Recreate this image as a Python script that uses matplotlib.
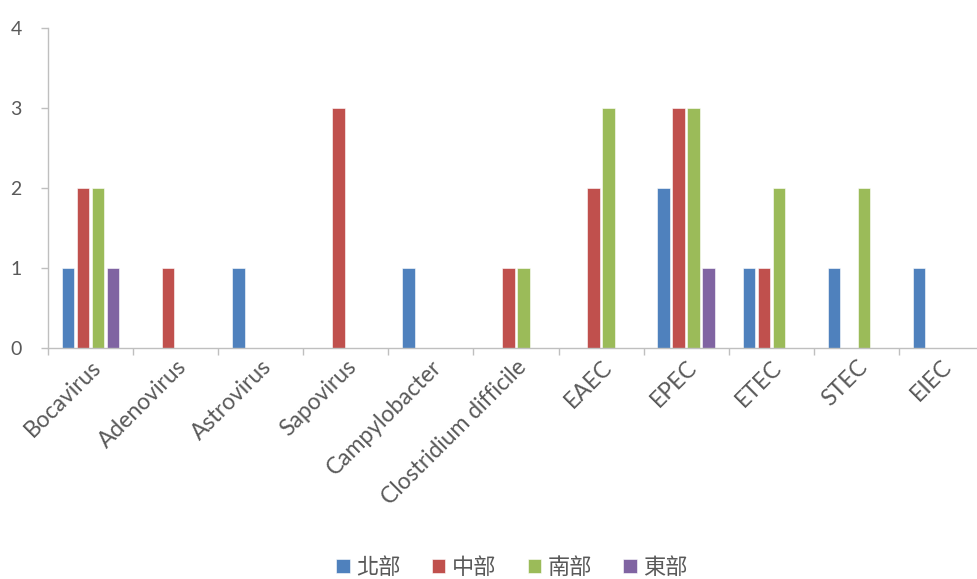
import matplotlib
matplotlib.use("Agg")
import matplotlib.pyplot as plt
import matplotlib.transforms as mtransforms
import numpy as np

categories = ["Bocavirus", "Adenovirus", "Astrovirus", "Sapovirus", "Campylobacter",
              "Clostridium difficile", "EAEC", "EPEC", "ETEC", "STEC", "EIEC"]
series_names = ["北部", "中部", "南部", "東部"]
north = [1, 0, 1, 0, 1, 0, 0, 2, 1, 1, 1]
central = [2, 1, 0, 3, 0, 1, 2, 3, 1, 0, 0]
south = [2, 0, 0, 0, 0, 1, 3, 3, 2, 2, 0]
east = [1, 0, 0, 0, 0, 0, 0, 1, 0, 0, 0]
yticks = [0, 1, 2, 3, 4]

colors = ["#4F81BD", "#C0504D", "#9BBB59", "#8064A2"]
series = [north, central, south, east]

plt.rcParams['font.family'] = ['Lato', 'Noto Sans CJK TC', 'DejaVu Sans']

fig = plt.figure(figsize=(9.78, 5.79), dpi=100)
ax = fig.add_axes([48/978, 231/579, 936/978, 320/579])

x = np.arange(len(categories))
step = 0.176
width = 0.147
for i, (vals, c, name) in enumerate(zip(series, colors, series_names)):
    ax.bar(x + (i - 1.5) * step, vals, width=width, color=c, label=name,
           edgecolor="white", linewidth=0.4, zorder=2)

ax.set_xlim(-0.5, len(categories) - 0.5)
ax.set_ylim(0, 4)
ax.set_yticks(yticks)
ax.set_yticklabels([str(v) for v in yticks], fontsize=14, color="#595959")
ax.set_xticks(x)
ax.set_xticklabels(categories, rotation=45, ha="right", rotation_mode="anchor",
                   fontsize=16.5, color="#595959")
offset = mtransforms.ScaledTranslation(-6/100, 0, fig.dpi_scale_trans)
for lbl in ax.get_xticklabels():
    lbl.set_transform(lbl.get_transform() + offset)
ax.set_xticks(np.arange(-0.5, len(categories) + 0.5, 1), minor=True)
ax.tick_params(axis="x", which="major", length=0, pad=6)
ax.tick_params(axis="x", which="minor", length=5, color="#BFBFBF", width=1)
ax.tick_params(axis="y", length=5, color="#BFBFBF", width=1, pad=14)

for s in ["top", "right"]:
    ax.spines[s].set_visible(False)
for s in ["left", "bottom"]:
    ax.spines[s].set_color("#BFBFBF")
    ax.spines[s].set_linewidth(1)

leg = fig.legend(loc="center", bbox_to_anchor=(512/978, 1 - 567/579), ncol=4,
                 frameon=False, handlelength=0.6, handleheight=0.6,
                 handletextpad=0.3, columnspacing=1.4,
                 prop={'family': ['Noto Sans CJK TC', 'DejaVu Sans'], 'size': 16})
for t in leg.get_texts():
    t.set_color("#595959")

fig.savefig("out.png", dpi=100)
